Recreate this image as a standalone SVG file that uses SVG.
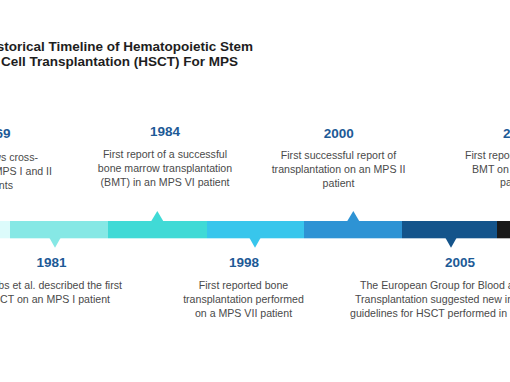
<svg xmlns="http://www.w3.org/2000/svg" width="510" height="382" viewBox="0 0 510 382">
<style>
.title{font-family:"Liberation Sans",Arial,sans-serif;font-weight:bold;font-size:13.5px;fill:#1e1e1e}
.yr{font-family:"Liberation Sans",Arial,sans-serif;font-weight:bold;font-size:13.5px;fill:#1d5a96}
.d{font-family:"Liberation Sans",Arial,sans-serif;font-size:10.6px;fill:#4a4a4a}
.m{text-anchor:middle}
.e{text-anchor:end}
</style>
<rect width="510" height="382" fill="#ffffff"/>
<g id="title">
<text class="title e" x="253" y="50.5">Historical Timeline of Hematopoietic Stem</text>
<text class="title" x="1" y="66">Cell Transplantation (HSCT) For MPS</text>
</g>
<g id="connectors">
<rect x="0" y="221" width="10" height="17.3" fill="#dcfbfb"/>
<rect x="10" y="221" width="98" height="17.3" fill="#86e8e5"/>
<rect x="108" y="221" width="99" height="17.3" fill="#40dad6"/>
<rect x="207" y="221" width="97" height="17.3" fill="#38c6ec"/>
<rect x="304" y="221" width="98" height="17.3" fill="#2e93d4"/>
<rect x="402" y="221" width="95" height="17.3" fill="#14548b"/>
<rect x="497" y="221" width="13" height="17.3" fill="#1a1a1a"/>
<polygon points="151,221.5 157.3,211 163.5,221.5" fill="#40dad6"/>
<polygon points="347,221.5 353.3,211 359.5,221.5" fill="#2e93d4"/>
<polygon points="49.5,238 55,247.7 60.5,238" fill="#86e8e5"/>
<polygon points="249.5,238 255,247.7 260.5,238" fill="#38c6ec"/>
<polygon points="445.5,238 451,247.7 456.5,238" fill="#14548b"/>
</g>
<g id="e1969">
<text class="yr e" x="10.5" y="137.5">1969</text>
<text class="d e" x="38" y="160.5">Neufeld shows cross-</text>
<text class="d e" x="52" y="174.5">correction in MPS I and II</text>
<text class="d e" x="13" y="188.5">patients</text>
</g>
<g id="e1981">
<text class="yr m" x="51.5" y="266.7">1981</text>
<text class="d e" x="122" y="289">Hobbs et al. described the first</text>
<text class="d e" x="110" y="302.5">HSCT on an MPS I patient</text>
</g>
<g id="e1984">
<text class="yr m" x="165" y="136">1984</text>
<text class="d m" x="165" y="158.3">First report of a successful</text>
<text class="d m" x="165" y="172.3">bone marrow transplantation</text>
<text class="d m" x="165" y="186.3">(BMT) in an MPS VI patient</text>
</g>
<g id="e1998">
<text class="yr m" x="244" y="267">1998</text>
<text class="d m" x="243.5" y="289">First reported bone</text>
<text class="d m" x="243.5" y="303">transplantation performed</text>
<text class="d m" x="243.5" y="317">on a MPS VII patient</text>
</g>
<g id="e2000">
<text class="yr m" x="338.7" y="137.5">2000</text>
<text class="d m" x="338.5" y="159">First successful report of</text>
<text class="d m" x="338.5" y="173">transplantation on an MPS II</text>
<text class="d m" x="338.5" y="187">patient</text>
</g>
<g id="e2005">
<text class="yr m" x="460" y="266.5">2005</text>
<text class="d" x="360" y="288.5">The European Group for Blood and Marrow</text>
<text class="d" x="355" y="302.5">Transplantation suggested new indication</text>
<text class="d" x="350" y="316.5">guidelines for HSCT performed in MPS</text>
</g>
<g id="e2010">
<text class="yr" x="503" y="137.5">2010</text>
<text class="d" x="465" y="159">First report of a successful</text>
<text class="d" x="472" y="172.5">BMT on an MPS IVA</text>
<text class="d" x="500" y="186">patient</text>
</g>
</svg>
